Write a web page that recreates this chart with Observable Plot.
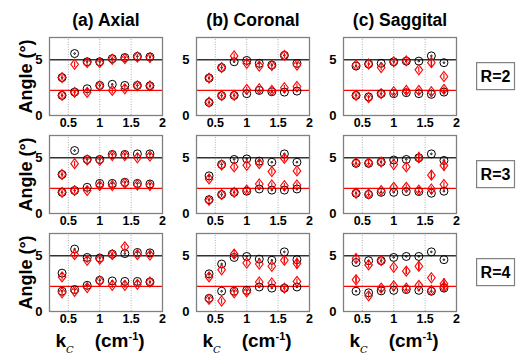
<!DOCTYPE html>
<html><head><meta charset="utf-8">
<script src="https://cdn.jsdelivr.net/npm/d3@7"></script>
<script src="https://cdn.jsdelivr.net/npm/@observablehq/plot@0.6"></script>
<style>
html,body{margin:0;padding:0;background:#fff;}
#chart svg{display:block;}
</style>
</head><body><div id="chart"></div>
<script>
// ---- data ----
const views = ["(a) Axial", "(b) Coronal", "(c) Saggital"];
const ratios = ["R=2", "R=3", "R=4"];
const kc = [0.4, 0.6, 0.8, 1.0, 1.2, 1.4, 1.6, 1.8];
const xTicks = [0.5, 1, 1.5, 2];
const yTicks = [0, 5];
const refHigh = 5;
const refLow = 2.25;

// (a) Axial
const axialR2BlackHi = [3.4, 5.56, 4.82, 4.82, 5.1, 5.2, 5.3, 5.26];
const axialR2BlackLo = [1.8, 2.1, 2.4, 2.7, 2.8, 2.7, 2.7, 2.66];
const axialR2RedHi   = [3.4, 4.6, 4.75, 4.75, 5.05, 5.1, 5.25, 5.2];
const axialR2RedLo   = [1.8, 2.07, 2.07, 2.66, 2.25, 2.4, 2.66, 2.66];
const axialR3BlackHi = [3.5, 5.65, 4.85, 4.85, 5.3, 5.3, 5.35, 5.35];
const axialR3BlackLo = [1.9, 2.06, 2.35, 2.7, 2.7, 2.8, 2.7, 2.65];
const axialR3RedHi   = [3.5, 4.47, 4.8, 4.76, 5.2, 5.2, 5.0, 5.15];
const axialR3RedLo   = [1.9, 2.06, 2.06, 2.5, 2.5, 2.7, 2.56, 2.5];
const axialR4BlackHi = [3.44, 5.6, 4.85, 4.8, 5.15, 5.2, 5.3, 5.26];
const axialR4BlackLo = [1.82, 1.97, 2.35, 2.8, 2.74, 2.7, 2.7, 2.65];
const axialR4RedHi   = [3.1, 5.1, 4.6, 4.7, 5.1, 5.8, 5.1, 5.06];
const axialR4RedLo   = [1.68, 1.82, 2.15, 2.74, 2.35, 2.35, 2.44, 2.65];
// (b) Coronal
const coronalR2BlackHi = [3.36, 4.3, 4.82, 4.94, 4.68, 4.53, 5.4, 4.68];
const coronalR2BlackLo = [1.17, 1.78, 1.8, 1.96, 2.25, 2.13, 2.1, 2.19];
const coronalR2RedHi   = [3.36, 4.3, 5.35, 4.68, 4.44, 4.47, 5.4, 4.53];
const coronalR2RedLo   = [1.2, 1.78, 1.8, 2.34, 2.4, 2.25, 2.49, 2.6];
const coronalR3BlackHi = [3.38, 4.4, 4.85, 4.9, 4.7, 4.6, 5.35, 4.6];
const coronalR3BlackLo = [1.24, 1.7, 1.9, 2.0, 2.2, 2.1, 2.1, 2.2];
const coronalR3RedHi   = [3.1, 4.35, 4.18, 4.32, 4.47, 3.76, 4.94, 3.82];
const coronalR3RedLo   = [1.18, 1.7, 1.9, 2.1, 2.65, 2.56, 2.5, 2.56];
const coronalR4BlackHi = [3.38, 4.26, 4.85, 4.94, 4.7, 4.6, 5.35, 4.65];
const coronalR4BlackLo = [1.18, 1.82, 1.82, 1.9, 2.2, 2.1, 2.1, 2.2];
const coronalR4RedHi   = [3.1, 3.74, 5.15, 4.35, 4.26, 4.06, 4.6, 4.3];
const coronalR4RedLo   = [1.1, 0.94, 1.68, 1.76, 2.65, 2.56, 2.1, 2.7];
// (c) Saggital
const saggitalR2BlackHi = [4.44, 4.62, 4.68, 4.82, 4.88, 4.88, 5.35, 4.74];
const saggitalR2BlackLo = [1.8, 1.67, 1.96, 1.96, 2.05, 1.96, 1.9, 2.1];
const saggitalR2RedHi   = [4.53, 4.62, 4.3, 4.82, 4.9, 4.1, 4.74, 3.5];
const saggitalR2RedLo   = [1.8, 1.6, 1.96, 2.13, 2.25, 2.25, 2.13, 2.34];
const saggitalR3BlackHi = [4.5, 4.5, 4.62, 4.8, 4.85, 5.0, 5.35, 4.76];
const saggitalR3BlackLo = [1.82, 1.7, 1.9, 1.9, 1.97, 1.97, 1.82, 2.0];
const saggitalR3RedHi   = [4.56, 4.56, 4.62, 4.4, 4.18, 5.0, 3.44, 4.3];
const saggitalR3RedLo   = [1.82, 1.76, 2.06, 2.35, 2.35, 2.1, 2.2, 2.6];
const saggitalR4BlackHi = [4.4, 4.56, 4.56, 4.85, 4.94, 4.94, 5.35, 4.65];
const saggitalR4BlackLo = [1.82, 1.68, 1.85, 1.9, 1.97, 1.9, 1.82, 2.1];
const saggitalR4RedHi   = [4.76, 4.18, 4.56, 3.97, 3.62, 4.06, 3.03, 2.5];
const saggitalR4RedLo   = [2.85, 1.41, 2.1, 2.3, 2.1, 2.35, 1.9, 2.2];

// visible red error bars: [view index, ratio, k, branch, half-width]
const redErrorBars = [
  [2, "R=2", 1.6, "hi", 0.45],
  [2, "R=3", 1.4, "hi", 0.5],
  [2, "R=3", 1.6, "hi", 0.4],
  [2, "R=3", 1.8, "hi", 0.5],
  [2, "R=4", 1.8, "hi", 0.45],
  [2, "R=4", 1.8, "lo", 0.4],
  [2, "R=4", 1.4, "hi", 0.45],
  [2, "R=4", 1.2, "hi", 0.3],
  [2, "R=4", 0.4, "lo", 0.35],
  [1, "R=4", 1.8, "hi", 0.5],
  [1, "R=4", 1.6, "hi", 0.35],
  [1, "R=3", 1.6, "hi", 0.3]
];

// ---- build tables ----
const panels = [
  [0, "R=2", axialR2BlackHi, axialR2BlackLo, axialR2RedHi, axialR2RedLo],
  [0, "R=3", axialR3BlackHi, axialR3BlackLo, axialR3RedHi, axialR3RedLo],
  [0, "R=4", axialR4BlackHi, axialR4BlackLo, axialR4RedHi, axialR4RedLo],
  [1, "R=2", coronalR2BlackHi, coronalR2BlackLo, coronalR2RedHi, coronalR2RedLo],
  [1, "R=3", coronalR3BlackHi, coronalR3BlackLo, coronalR3RedHi, coronalR3RedLo],
  [1, "R=4", coronalR4BlackHi, coronalR4BlackLo, coronalR4RedHi, coronalR4RedLo],
  [2, "R=2", saggitalR2BlackHi, saggitalR2BlackLo, saggitalR2RedHi, saggitalR2RedLo],
  [2, "R=3", saggitalR3BlackHi, saggitalR3BlackLo, saggitalR3RedHi, saggitalR3RedLo],
  [2, "R=4", saggitalR4BlackHi, saggitalR4BlackLo, saggitalR4RedHi, saggitalR4RedLo]
];
const black = [], red = [];
for (const [vi, r, bh, bl, rh, rl] of panels) {
  kc.forEach((k, i) => {
    black.push({view: views[vi], R: r, k, v: bh[i]});
    black.push({view: views[vi], R: r, k, v: bl[i]});
    red.push({view: views[vi], R: r, k, v: rh[i], branch: "hi"});
    red.push({view: views[vi], R: r, k, v: rl[i], branch: "lo"});
  });
}
const errRows = redErrorBars.map(([vi, r, k, br, e]) => {
  const p = panels.find(p => p[0] === vi && p[1] === r);
  const i = kc.indexOf(k);
  const v = br === "hi" ? p[4][i] : p[5][i];
  return {view: views[vi], R: r, k, lo: v - e, hi: v + e};
});
const allFacets = [];
for (const v of views) for (const r of ratios) allFacets.push({view: v, R: r});

// ---- symbols ----
const circleDot = {draw(ctx, size) {
  const r = Math.sqrt(size / Math.PI);
  ctx.moveTo(r, 0); ctx.arc(0, 0, r, 0, 2 * Math.PI);
  ctx.moveTo(0.8, 0); ctx.arc(0, 0, 0.8, 0, 2 * Math.PI);
}};
const diamondBar = {draw(ctx, size) {
  const r = Math.sqrt(size / Math.PI);
  const h = r * 1.25, w = r * 0.95;
  ctx.moveTo(0, -h); ctx.lineTo(w, 0); ctx.lineTo(0, h); ctx.lineTo(-w, 0); ctx.closePath();
  ctx.moveTo(0, -h * 0.55); ctx.lineTo(0, h * 0.55);
}};

const font = "'Liberation Sans', Arial, Helvetica, sans-serif";

const chart = Plot.plot({
  width: 517, height: 356,
  marginLeft: 48, marginRight: 61, marginTop: 35.5, marginBottom: 44,
  style: {fontFamily: font, fontWeight: "bold", background: "#fff", color: "#000"},
  x: {domain: [0.2, 2]},
  y: {domain: [0, 7]},
  fx: {domain: views, paddingInner: 0.233, paddingOuter: 0, axis: null},
  fy: {domain: ratios, paddingInner: 0.2, paddingOuter: 0, axis: null},
  marks: [
    Plot.ruleX(allFacets.flatMap(f => [0.5, 1, 1.5].map(x => ({...f, x}))),
      {fx: "view", fy: "R", x: "x", y1: 0, y2: 7, stroke: "#9a9a9a", strokeWidth: 0.8, strokeDasharray: "1,1.5"}),
    Plot.ruleY(allFacets, {fx: "view", fy: "R", y: () => refHigh, stroke: "#333", strokeWidth: 1.4}),
    Plot.ruleY(allFacets, {fx: "view", fy: "R", y: () => refLow, stroke: "#ff0000", strokeWidth: 1.2}),
    Plot.dot(black, {fx: "view", fy: "R", x: "k", y: "v", r: 4, symbol: circleDot, stroke: "#000", strokeWidth: 1, fill: "none"}),
    Plot.ruleX(errRows, {fx: "view", fy: "R", x: "k", y1: "lo", y2: "hi", stroke: "#ff0000", strokeWidth: 1.4}),
    Plot.dot(red, {fx: "view", fy: "R", x: "k", y: "v", r: 4, symbol: diamondBar, stroke: "#ff0000", strokeWidth: 1.1, fill: "none"}),
    Plot.frame({stroke: "#808080", strokeWidth: 1.3}),
    Plot.axisX({ticks: xTicks, tickSize: 0, tickPadding: 3, fontSize: 12.5, fontWeight: "bold", label: null, facetAnchor: null, tickFormat: d => String(d)}),
    Plot.axisY({ticks: yTicks, tickSize: 0, tickPadding: 7, fontSize: 13, fontWeight: "bold", label: null, facetAnchor: null, tickFormat: d => String(d)}),
    // column titles
    Plot.text(views.map(v => ({view: v, R: ratios[0]})), {fx: "view", fy: "R", text: "view", frameAnchor: "top", dy: -17.5, lineAnchor: "middle", fontSize: 17.5, fontWeight: "bold"}),
    // y label
    Plot.text(ratios.map(r => ({view: views[0], R: r})), {fx: "view", fy: "R", text: () => "Angle (°)", frameAnchor: "left", textAnchor: "middle", rotate: -90, dx: -23, fontSize: 18, fontWeight: "bold", lineAnchor: "middle"}),
    // x label
    Plot.text(views.map(v => ({view: v, R: ratios[2]})), {fx: "view", fy: "R", text: () => "kC (cm-1)", frameAnchor: "bottom", dy: 29, dx: -6, lineAnchor: "middle", fontSize: 19, fontWeight: "bold", className: "klabel"}),
    // ratio labels
    Plot.text(ratios.map(r => ({view: views[2], R: r})), {fx: "view", fy: "R", text: "R", frameAnchor: "right", textAnchor: "middle", dx: 39, lineAnchor: "middle", fontSize: 16, fontWeight: "bold", className: "rlabel"})
  ]
});
document.getElementById("chart").appendChild(chart);

// rich text for the x label (subscript / superscript)
d3.select(chart).selectAll(".klabel text").each(function() {
  const t = d3.select(this);
  t.text(null);
  t.append("tspan").text("k");
  t.append("tspan").attr("dy", 6).attr("font-size", 10).attr("font-family", "'DejaVu Serif', serif").attr("font-style", "italic").attr("font-weight", "normal").text("C");
  t.append("tspan").attr("dy", -6).text("\u00a0\u00a0\u00a0\u00a0(cm");
  t.append("tspan").attr("dy", -7).attr("font-size", 11).text("-1");
  t.append("tspan").attr("dy", 7).text(")");
});
// boxes around ratio labels
d3.select(chart).selectAll(".rlabel text").each(function() {
  const b = this.getBBox();
  const g = this.parentNode;
  const rect = document.createElementNS("http://www.w3.org/2000/svg", "rect");
  rect.setAttribute("x", b.x - 4);
  rect.setAttribute("y", b.y - 5);
  rect.setAttribute("width", b.width + 8);
  rect.setAttribute("height", b.height + 10);
  rect.setAttribute("fill", "none");
  rect.setAttribute("stroke", "#808080");
  rect.setAttribute("stroke-width", 1.2);
  if (this.getAttribute("transform")) rect.setAttribute("transform", this.getAttribute("transform"));
  g.insertBefore(rect, this);
});
</script>
</body></html>
